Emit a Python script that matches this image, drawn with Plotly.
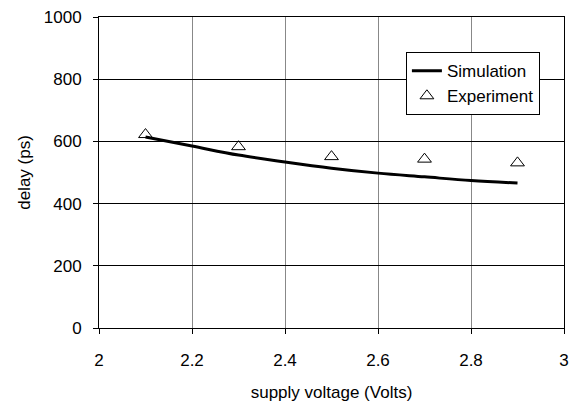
import plotly.graph_objects as go

sim_x = [2.1, 2.2, 2.3, 2.4, 2.5, 2.6, 2.7, 2.8, 2.9]
sim_y = [614, 585, 556, 534, 514, 498, 486, 474, 466]
exp_x = [2.1, 2.3, 2.5, 2.7, 2.9]
exp_y = [622, 583, 551, 543, 531]
x_ticks = [2, 2.2, 2.4, 2.6, 2.8, 3]
x_tick_labels = ["2", "2.2", "2.4", "2.6", "2.8", "3"]
y_ticks = [0, 200, 400, 600, 800, 1000]

fig = go.Figure()
fig.add_trace(go.Scatter(x=sim_x, y=sim_y, mode="lines", name="Simulation",
                         line=dict(color="black", width=3, shape="spline")))
fig.add_trace(go.Scatter(x=exp_x, y=exp_y, mode="markers", name="Experiment",
                         marker=dict(symbol="triangle-up-open", size=12,
                                     color="black", line=dict(width=1))))

font = dict(family="Liberation Sans, Arial, sans-serif", color="black")
fig.update_layout(
    width=570, height=402,
    margin=dict(l=99, r=6, t=17, b=74),
    paper_bgcolor="white", plot_bgcolor="white",
    font=dict(**font, size=17),
    legend=dict(x=0.66, y=0.887, xanchor="left", yanchor="top",
                bordercolor="black", borderwidth=1, bgcolor="white",
                font=dict(**font, size=17), tracegroupgap=0,
                itemwidth=30),
    xaxis=dict(range=[2, 3], tickvals=x_ticks, ticktext=x_tick_labels,
               showgrid=True, gridcolor="#888888", gridwidth=1,
               showline=True, linecolor="black", linewidth=1, mirror=True,
               ticks="outside", ticklen=5, tickcolor="black",
               ticklabelstandoff=12, automargin=False,
               zeroline=False, tickfont=dict(**font, size=17),
               title=dict(text="supply voltage (Volts)", standoff=16,
                          font=dict(**font, size=17))),
    yaxis=dict(range=[0, 1000], tickvals=y_ticks,
               showgrid=True, gridcolor="black", gridwidth=1,
               showline=True, linecolor="black", linewidth=1, mirror=True,
               ticks="outside", ticklen=5, tickcolor="black",
               ticklabelstandoff=8, automargin=False,
               zeroline=False, tickfont=dict(**font, size=17),
               title=dict(text="delay (ps)", standoff=8,
                          font=dict(**font, size=17))),
)
fig.write_html("out.html", config={"displayModeBar": False},
               post_script="document.body.style.margin='0';document.body.style.padding='0';")
